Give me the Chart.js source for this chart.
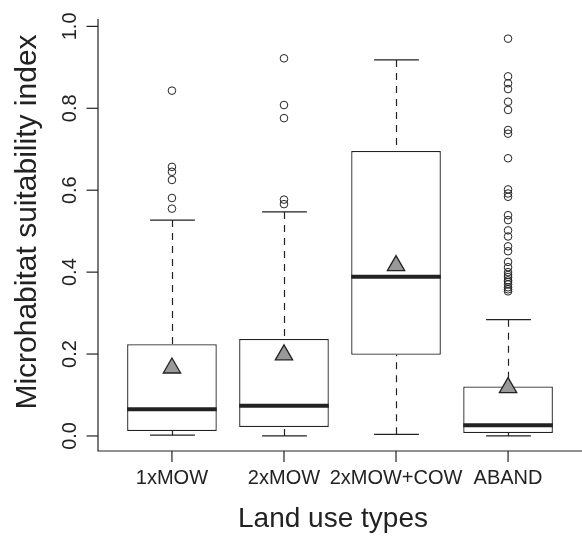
<!DOCTYPE html>
<html>
<head>
<meta charset="utf-8">
<script src="https://cdn.jsdelivr.net/npm/chart.js@4.4.0/dist/chart.umd.min.js"></script>
<style>
  html, body { margin: 0; padding: 0; background: #fff; }
</style>
</head>
<body>
<canvas id="boxplot" width="582" height="537"></canvas>
<script>
// Land use types on the x axis
const categories = ['1xMOW', '2xMOW', '2xMOW+COW', 'ABAND'];

// Box statistics
const lowerWhisker = [0.002, 0.000, 0.004, 0.000];
const q1 = [0.012, 0.022, 0.198, 0.007];
const median = [0.065, 0.074, 0.389, 0.026];
const q3 = [0.224, 0.237, 0.696, 0.121];
const upperWhisker = [0.527, 0.547, 0.918, 0.284];
const means = [0.166, 0.198, 0.416, 0.118];

// Outliers per group
const outliers1xMOW = [0.843, 0.657, 0.645, 0.625, 0.581, 0.555];
const outliers2xMOW = [0.922, 0.808, 0.776, 0.577, 0.566];
const outliers2xMOWCOW = [];
const outliersABAND = [0.970, 0.878, 0.861, 0.847, 0.816, 0.796, 0.747, 0.738, 0.678,
    0.602, 0.592, 0.584, 0.539, 0.527, 0.502, 0.487, 0.463, 0.451, 0.425, 0.412,
    0.400, 0.393, 0.388, 0.380, 0.376, 0.370, 0.363, 0.358, 0.353];

// Y axis ticks
const yTicks = [0, 0.2, 0.4, 0.6, 0.8, 1.0];
const yTickLabels = ['0.0', '0.2', '0.4', '0.6', '0.8', '1.0'];

const xTitle = 'Land use types';
const yTitle = 'Microhabitat suitability index';

const ink = '#222222';
const font = '"Liberation Sans", Arial, Helvetica, sans-serif';

const outlierGroups = [outliers1xMOW, outliers2xMOW, outliers2xMOWCOW, outliersABAND];
const outlierPoints = [];
outlierGroups.forEach((g, i) => g.forEach(v => outlierPoints.push({ x: i + 1, y: v })));

// Whiskers, staples, medians and the R-style axes
const rBoxParts = {
    id: 'rBoxParts',
    beforeDatasetsDraw(chart) {
        const { ctx, scales: { x, y } } = chart;
        ctx.save();
        ctx.strokeStyle = ink;
        ctx.lineWidth = 1.2;
        categories.forEach((c, i) => {
            const cx = Math.round(x.getPixelForValue(i + 1)) + 0.5;
            const half = x.getPixelForValue(i + 1 + 0.2) - x.getPixelForValue(i + 1);
            ctx.setLineDash([7, 6]);
            ctx.beginPath();
            ctx.moveTo(cx, y.getPixelForValue(upperWhisker[i]));
            ctx.lineTo(cx, y.getPixelForValue(q3[i]));
            ctx.moveTo(cx, y.getPixelForValue(lowerWhisker[i]));
            ctx.lineTo(cx, y.getPixelForValue(q1[i]));
            ctx.stroke();
            ctx.setLineDash([]);
            ctx.beginPath();
            const yu = y.getPixelForValue(upperWhisker[i]);
            const yl = y.getPixelForValue(lowerWhisker[i]);
            ctx.moveTo(cx - half, yu);
            ctx.lineTo(cx + half, yu);
            ctx.moveTo(cx - half, yl);
            ctx.lineTo(cx + half, yl);
            ctx.stroke();
        });
        ctx.restore();
    },
    afterDatasetDraw(chart, args) {
        if (args.index !== 0) return;
        const { ctx, scales: { x, y } } = chart;
        ctx.save();
        ctx.strokeStyle = ink;
        ctx.lineWidth = 4;
        categories.forEach((c, i) => {
            const l = x.getPixelForValue(i + 1 - 0.4);
            const r = x.getPixelForValue(i + 1 + 0.4);
            const ym = y.getPixelForValue(median[i]);
            ctx.beginPath();
            ctx.moveTo(l, ym);
            ctx.lineTo(r, ym);
            ctx.stroke();
        });
        ctx.restore();
    },
    afterDraw(chart) {
        const { ctx, chartArea: a, scales: { x, y } } = chart;
        ctx.save();
        ctx.strokeStyle = ink;
        ctx.fillStyle = ink;
        ctx.lineWidth = 1.2;
        // L-shaped frame
        ctx.beginPath();
        ctx.moveTo(a.left, a.top);
        ctx.lineTo(a.left, a.bottom);
        ctx.lineTo(a.right, a.bottom);
        ctx.stroke();
        // y ticks and labels
        ctx.font = '20px ' + font;
        ctx.textAlign = 'center';
        ctx.textBaseline = 'alphabetic';
        yTicks.forEach((t, i) => {
            const py = y.getPixelForValue(t);
            ctx.beginPath();
            ctx.moveTo(a.left - 11.5, py);
            ctx.lineTo(a.left, py);
            ctx.stroke();
            ctx.save();
            ctx.translate(76, py);
            ctx.rotate(-Math.PI / 2);
            ctx.fillText(yTickLabels[i], 0, 0);
            ctx.restore();
        });
        // x ticks and labels
        categories.forEach((c, i) => {
            const px = x.getPixelForValue(i + 1);
            ctx.beginPath();
            ctx.moveTo(px, a.bottom);
            ctx.lineTo(px, a.bottom + 11);
            ctx.stroke();
            ctx.fillText(c, px, 484);
        });
        // axis titles
        ctx.font = '28px ' + font;
        ctx.fillText(xTitle, 333, 527);
        ctx.font = '30px ' + font;
        ctx.save();
        ctx.translate(36, 222);
        ctx.rotate(-Math.PI / 2);
        ctx.fillText(yTitle, 0, 0);
        ctx.restore();
        ctx.restore();
    }
};

new Chart(document.getElementById('boxplot'), {
    type: 'bar',
    data: {
        datasets: [{
            type: 'bar',
            label: 'box',
            data: categories.map((c, i) => ({ x: i + 1, y: [q1[i], q3[i]] })),
            backgroundColor: '#ffffff',
            borderColor: ink,
            borderWidth: 1.3,
            borderSkipped: false,
            barPercentage: 0.8,
            categoryPercentage: 1,
            order: 3
        }, {
            type: 'scatter',
            label: 'outliers',
            data: outlierPoints,
            pointStyle: 'circle',
            pointRadius: 3.8,
            pointBorderWidth: 1,
            pointBorderColor: ink,
            pointBackgroundColor: 'rgba(0,0,0,0)',
            order: 2
        }, {
            type: 'scatter',
            label: 'mean',
            data: means.map((m, i) => ({ x: i + 1, y: m })),
            pointStyle: 'triangle',
            pointRadius: 10,
            pointBorderWidth: 1.3,
            pointBorderColor: ink,
            pointBackgroundColor: '#999999',
            order: 1
        }]
    },
    options: {
        responsive: false,
        devicePixelRatio: 1,
        animation: false,
        events: [],
        layout: { autoPadding: false, padding: { left: 98, top: 19, right: 0, bottom: 86 } },
        plugins: { legend: { display: false }, tooltip: { enabled: false } },
        scales: {
            x: {
                type: 'linear', min: 0.34, max: 4.66, offset: false, display: false,
                afterBuildTicks: (scale) => { scale.ticks = categories.map((c, i) => ({ value: i + 1 })); }
            },
            y: { type: 'linear', min: -0.0367, max: 1.018, display: false }
        }
    },
    plugins: [rBoxParts]
});
</script>
</body>
</html>
